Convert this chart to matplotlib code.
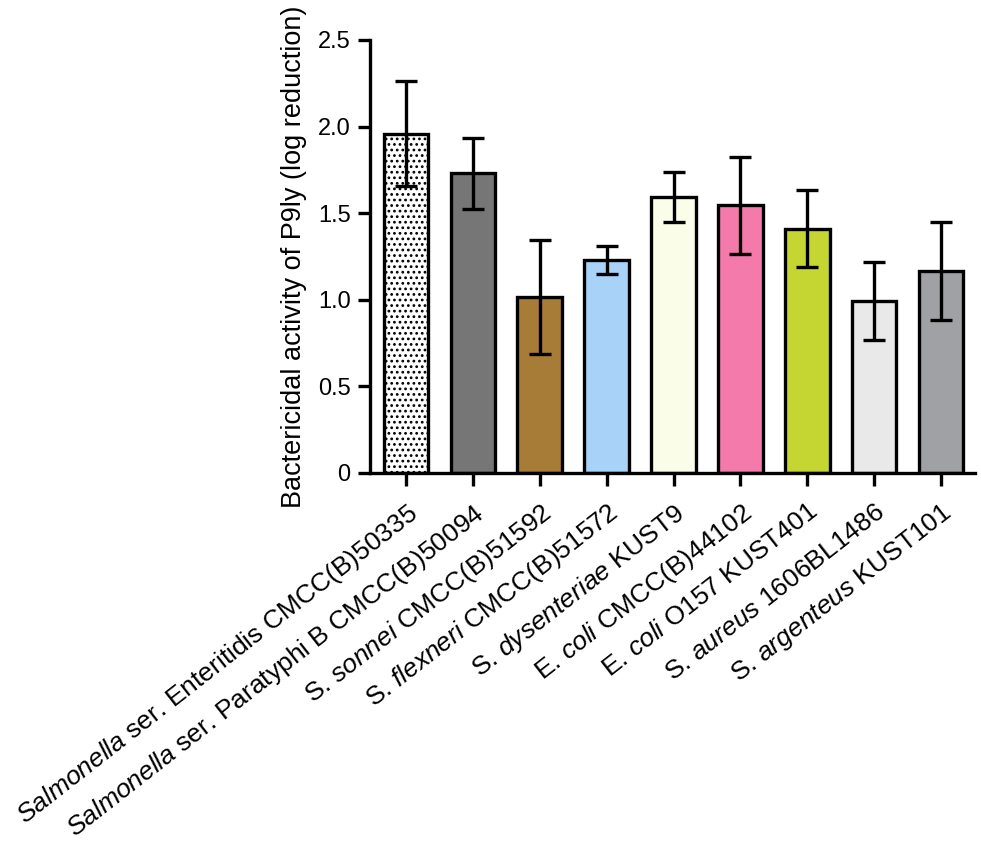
import matplotlib
matplotlib.use("Agg")
from matplotlib import pyplot as plt

plt.rcParams["font.family"] = ["Liberation Sans", "DejaVu Sans"]
plt.rcParams["mathtext.fontset"] = "custom"
plt.rcParams["mathtext.rm"] = "Liberation Sans"
plt.rcParams["mathtext.it"] = "Liberation Sans:italic"
plt.rcParams["hatch.linewidth"] = 1.2

strains = [
    r"$\it{Salmonella}$ ser. Enteritidis CMCC(B)50335",
    r"$\it{Salmonella}$ ser. Paratyphi B CMCC(B)50094",
    r"S. $\it{sonnei}$ CMCC(B)51592",
    r"S. $\it{flexneri}$ CMCC(B)51572",
    r"S. $\it{dysenteriae}$ KUST9",
    r"E. $\it{coli}$ CMCC(B)44102",
    r"E. $\it{coli}$ O157 KUST401",
    r"S. $\it{aureus}$ 1606BL1486",
    r"S. $\it{argenteus}$ KUST101",
]
log_reduction = [1.96, 1.73, 1.015, 1.23, 1.595, 1.545, 1.41, 0.995, 1.165]
error = [0.305, 0.205, 0.33, 0.08, 0.143, 0.28, 0.223, 0.225, 0.283]
colors = ["white", "#767676", "#A67C36", "#A8D2F7", "#FAFDE8",
          "#F37AAA", "#C5D531", "#E8E9E8", "#A0A1A4"]

fig = plt.figure(figsize=(9.81, 8.48), dpi=100)
ax = fig.add_axes([370 / 981, 1 - 473 / 848, 605 / 981, 433 / 848])

x = list(range(len(strains)))
bars = ax.bar(x, log_reduction, width=0.67, color=colors,
              edgecolor="black", linewidth=2.4, zorder=2)
bars[0].set_hatch("...")
ax.errorbar(x, log_reduction, yerr=error, fmt="none", ecolor="black",
            elinewidth=2.4, capsize=8, capthick=2.4, zorder=3)

ax.set_xlim(-0.54, 8.51)
ax.set_ylim(0, 2.5)
ax.set_yticks([0, 0.5, 1.0, 1.5, 2.0, 2.5])
ax.set_yticklabels(["0", "0.5", "1.0", "1.5", "2.0", "2.5"])
ax.set_xticks(x)
ax.set_xticklabels(strains, rotation=38, ha="right", rotation_mode="anchor",
                   fontsize=19)

for side in ["top", "right"]:
    ax.spines[side].set_visible(False)
for side in ["left", "bottom"]:
    ax.spines[side].set_linewidth(2.4)
ax.tick_params(axis="both", width=2.4, length=9)
ax.tick_params(axis="y", labelsize=17, pad=5)
ax.tick_params(axis="x", pad=10)
ax.set_ylabel("Bactericidal activity of P9ly (log reduction)", fontsize=19.5, labelpad=8)

plt.savefig("out.png", dpi=100)
